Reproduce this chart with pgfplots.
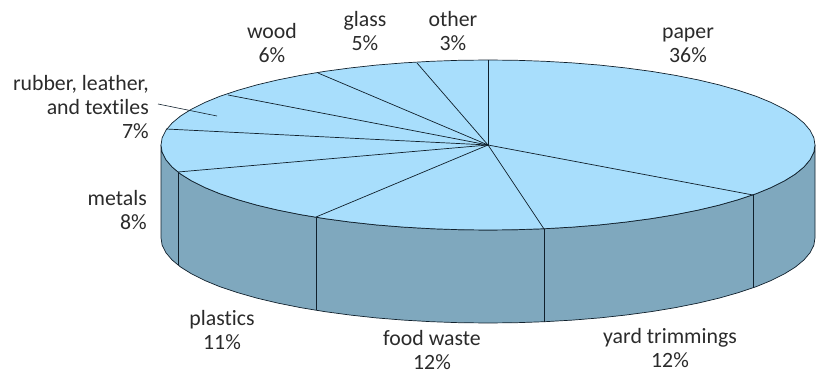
\documentclass[border=0pt]{standalone}
\usepackage{pgfplots}
\pgfplotsset{compat=1.18}
\usepackage{fontspec}
\setmainfont[Ligatures={NoCommon}]{Carlito}
\definecolor{topc}{HTML}{A8DEFC}
\definecolor{sidec}{HTML}{7FA8BE}
\definecolor{txt}{HTML}{2B2B2B}
\definecolor{ln}{HTML}{10202C}
\tikzset{lbl/.style={font=\fontsize{21.8}{23.7}\selectfont, text=txt, align=center, inner sep=0pt},
 lblr/.style={font=\fontsize{21.8}{23.7}\selectfont, text=txt, align=right, inner sep=0pt, anchor=east}}
\begin{document}
\begin{tikzpicture}
\begin{axis}[
  scale only axis, width=822pt, height=374pt,
  xmin=0, xmax=822, ymin=0, ymax=374, y dir=reverse,
  hide axis, clip=false,
]
% page extent
\addplot[draw=none, forget plot] coordinates {(0,0)(822,374)};
% side wall
\addplot[fill=sidec, draw=ln, line width=0.7pt] coordinates {
(161,145)(162.2,152.4)(166,159.8)(172.1,167)(180.7,174.1)(191.6,180.9)(204.8,187.5)(220.1,193.8)(237.5,199.6)(256.8,205.1)(277.8,210.1)(300.4,214.6)(324.5,218.6)(349.8,222)(376.2,224.9)(403.4,227.1)(431.2,228.7)(459.5,229.7)(488,230)(516.5,229.7)(544.8,228.7)(572.6,227.1)(599.8,224.9)(626.2,222)(651.5,218.6)(675.6,214.6)(698.2,210.1)(719.2,205.1)(738.5,199.6)(755.9,193.8)(771.2,187.5)(784.4,180.9)(795.3,174.1)(803.9,167)(810,159.8)(813.8,152.4)(815,145)
(815,238)(813.8,245.4)(810,252.8)(803.9,260)(795.3,267.1)(784.4,273.9)(771.2,280.5)(755.9,286.8)(738.5,292.6)(719.2,298.1)(698.2,303.1)(675.6,307.6)(651.5,311.6)(626.2,315)(599.8,317.9)(572.6,320.1)(544.8,321.7)(516.5,322.7)(488,323)(459.5,322.7)(431.2,321.7)(403.4,320.1)(376.2,317.9)(349.8,315)(324.5,311.6)(300.4,307.6)(277.8,303.1)(256.8,298.1)(237.5,292.6)(220.1,286.8)(204.8,280.5)(191.6,273.9)(180.7,267.1)(172.1,260)(166,252.8)(162.2,245.4)(161,238)
} -- cycle;
% wall edges
\addplot[draw=ln, line width=0.8pt] coordinates {(178,172)(178,265)};
\addplot[draw=ln, line width=0.8pt] coordinates {(316,217)(316,310)};
\addplot[draw=ln, line width=0.8pt] coordinates {(544,229)(544,322)};
\addplot[draw=ln, line width=0.8pt] coordinates {(753,195)(753,288)};
% top ellipse
\addplot[fill=topc, draw=ln, line width=0.7pt] coordinates {
(161,145)(162.2,152.4)(166,159.8)(172.1,167)(180.7,174.1)(191.6,180.9)(204.8,187.5)(220.1,193.8)(237.5,199.6)(256.8,205.1)(277.8,210.1)(300.4,214.6)(324.5,218.6)(349.8,222)(376.2,224.9)(403.4,227.1)(431.2,228.7)(459.5,229.7)(488,230)(516.5,229.7)(544.8,228.7)(572.6,227.1)(599.8,224.9)(626.2,222)(651.5,218.6)(675.6,214.6)(698.2,210.1)(719.2,205.1)(738.5,199.6)(755.9,193.8)(771.2,187.5)(784.4,180.9)(795.3,174.1)(803.9,167)(810,159.8)(813.8,152.4)(815,145)
(813.8,137.6)(810,130.2)(803.9,123)(795.3,115.9)(784.4,109.1)(771.2,102.5)(755.9,96.2)(738.5,90.4)(719.2,84.9)(698.2,79.9)(675.6,75.4)(651.5,71.4)(626.2,68)(599.8,65.1)(572.6,62.9)(544.8,61.3)(516.5,60.3)(488,60)(459.5,60.3)(431.2,61.3)(403.4,62.9)(376.2,65.1)(349.8,68)(324.5,71.4)(300.4,75.4)(277.8,79.9)(256.8,84.9)(237.5,90.4)(220.1,96.2)(204.8,102.5)(191.6,109.1)(180.7,115.9)(172.1,123)(166,130.2)(162.2,137.6)
} -- cycle;
% slice boundaries
\addplot[draw=ln, line width=0.7pt] coordinates {(488,145)(488,60)};
\addplot[draw=ln, line width=0.7pt] coordinates {(488,145)(753,195)};
\addplot[draw=ln, line width=0.7pt] coordinates {(488,145)(544,229)};
\addplot[draw=ln, line width=0.7pt] coordinates {(488,145)(316,217)};
\addplot[draw=ln, line width=0.7pt] coordinates {(488,145)(178,172)};
\addplot[draw=ln, line width=0.7pt] coordinates {(488,145)(166,129)};
\addplot[draw=ln, line width=0.7pt] coordinates {(488,145)(228,95)};
\addplot[draw=ln, line width=0.7pt] coordinates {(488,145)(318,73)};
\addplot[draw=ln, line width=0.7pt] coordinates {(488,145)(417,63)};
% leader
\addplot[draw=ln, line width=0.6pt] coordinates {(158,104)(217,116)};
% labels
\node[lbl] at (axis cs:688,45) {paper\\36\%};
\node[lbl] at (axis cs:453,31) {other\\3\%};
\node[lbl] at (axis cs:365,31) {glass\\5\%};
\node[lbl] at (axis cs:272,43) {wood\\6\%};
\node[lblr] at (axis cs:149,107) {rubber, leather,\\and textiles\\7\%};
\node[lblr] at (axis cs:147,210) {metals\\8\%};
\node[lbl] at (axis cs:222,330) {plastics\\11\%};
\node[lbl] at (axis cs:432,350) {food waste\\12\%};
\node[lbl] at (axis cs:670,348) {yard trimmings\\12\%};
\end{axis}
\end{tikzpicture}
\end{document}
